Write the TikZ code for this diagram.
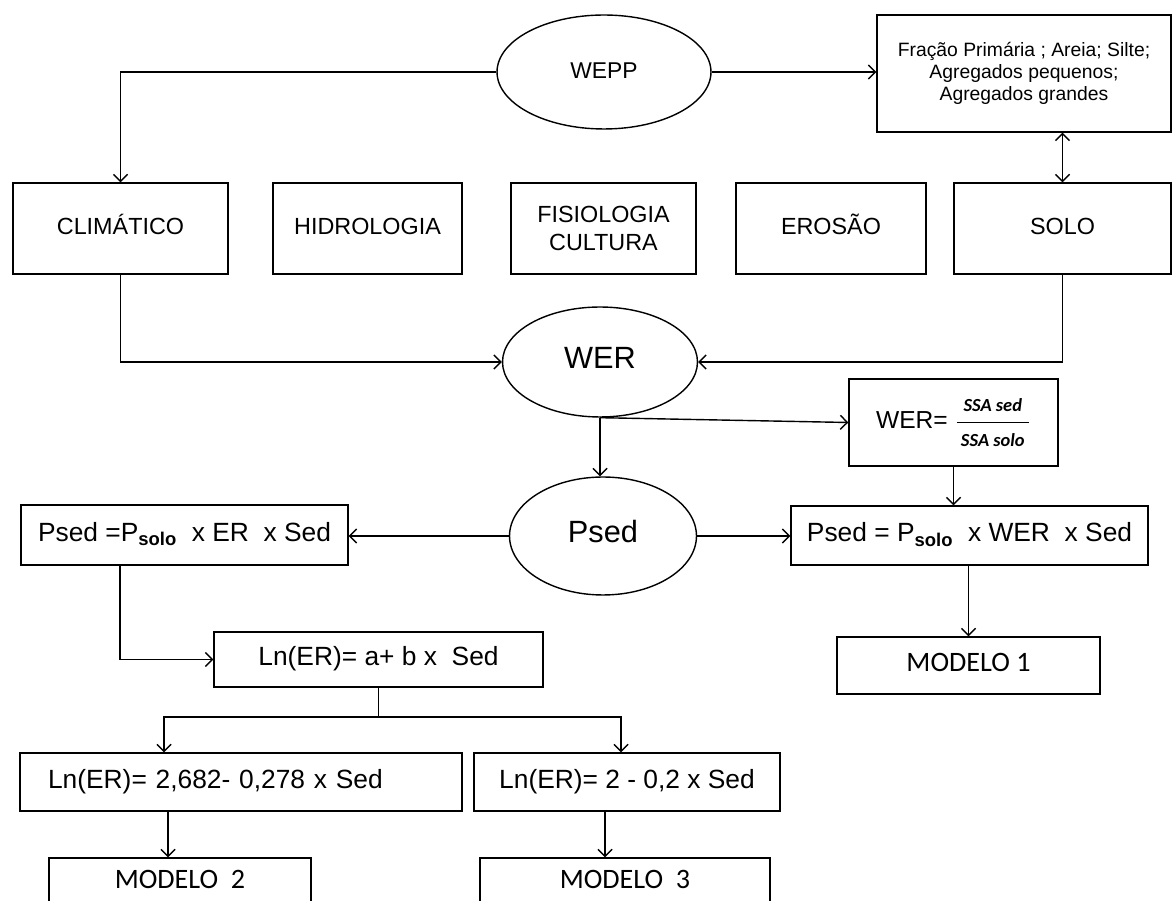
\documentclass[tikz,border=0pt]{standalone}
\usepackage{fontspec}
\setmainfont{Liberation Sans}
\newfontfamily\calfont{Carlito}
\usetikzlibrary{shapes, arrows, arrows.meta}
\tikzstyle{block} = [draw, rectangle, inner sep=0pt, align=center, font=\fontsize{13.3}{16}\selectfont]
\tikzstyle{oneline} = [text height=0.72em, text depth=0pt]
\tikzstyle{elip} = [draw, ellipse, inner sep=0pt, oneline]
\tikzstyle{eqbox} = [block, oneline, font=\fontsize{15}{18}\selectfont]
\tikzstyle{modbox} = [block, oneline, font=\calfont\fontsize{16}{19}\selectfont]
\newcommand{\fracfont}{\calfont\bfseries\itshape\fontsize{10.5}{12}\selectfont}

\begin{document}
\begin{tikzpicture}[x=0.02cm,y=-0.02cm,line width=0.8pt,>={Straight Barb[length=4pt,width=8pt]}]
\useasboundingbox (0,0) rectangle (1174,901);
\clip (0,0) rectangle (1174,901);
\fill[white] (0,0) rectangle (1174,901);

\node [elip, minimum width=4.28cm, minimum height=2.28cm, font=\fontsize{13}{16}\selectfont] (wepp) at (604,72) {WEPP};
\node [block, minimum width=5.88cm, minimum height=2.34cm, font=\fontsize{11}{12.5}\selectfont] (fracao) at (1024,73.5) {Fração Primária ; Areia; Silte;\\ Agregados pequenos;\\ Agregados grandes};

\node [block, oneline, minimum width=4.3cm, minimum height=1.82cm] (climatico) at (120.5,228.5) {CLIMÁTICO};
\node [block, oneline, minimum width=3.78cm, minimum height=1.82cm] (hidrologia) at (367.5,228.5) {HIDROLOGIA};
\node [block, minimum width=3.7cm, minimum height=1.82cm] (fisiologia) at (603.5,228.5) {FISIOLOGIA\\ CULTURA};
\node [block, oneline, minimum width=3.8cm, minimum height=1.82cm] (erosao) at (831,228.5) {EROSÃO};
\node [block, oneline, minimum width=4.34cm, minimum height=1.82cm] (solo) at (1062.5,228.5) {SOLO};

\node [elip, minimum width=3.9cm, minimum height=2.2cm, font=\fontsize{17.5}{20}\selectfont] (wer) at (600,362) {WER};
\node [block, minimum width=4.18cm, minimum height=1.74cm, font=\fontsize{14}{17}\selectfont] (werbox) at (953.5,422.5) {WER=\ ${\displaystyle\frac{\mbox{\fracfont\ SSA sed\ }}{\mbox{\fracfont\ SSA solo\ }}}$};

\node [elip, minimum width=3.74cm, minimum height=2.36cm, font=\fontsize{17.5}{20}\selectfont] (psed) at (603,536) {Psed};
\node [eqbox, minimum width=6.54cm, minimum height=1.2cm] (pleft) at (184.5,535) {Psed =P\textsubscript{\textbf{solo}}\ \ x ER\ \ x Sed};
\node [eqbox, minimum width=7.14cm, minimum height=1.18cm] (pright) at (969.5,535.5) {Psed = P\textsubscript{\textbf{solo}}\ \ x WER\ \ x Sed};

\node [eqbox, minimum width=6.58cm, minimum height=1.1cm] (lnab) at (378.5,659.5) {Ln(ER)= a+ b x\ \ Sed};
\node [modbox, minimum width=5.26cm, minimum height=1.14cm] (mod1) at (968.5,665.5) {MODELO 1};

\node [eqbox, minimum height=1.16cm, text width=7.72cm, inner xsep=0.56cm, align=left] (lnA) at (241,782) {Ln(ER)= 2,682- 0,278 x Sed};
\node [eqbox, minimum width=6.12cm, minimum height=1.16cm] (lnB) at (627,782) {Ln(ER)= 2 - 0,2 x Sed};
\node [modbox, minimum width=5.24cm, minimum height=0.96cm] (mod2) at (180,882) {MODELO\ \ 2};
\node [modbox, minimum width=5.8cm, minimum height=0.96cm] (mod3) at (625,882) {MODELO\ \ 3};

\coordinate (fork) at (378.5,717);

\draw [->] (wepp.west) -| (climatico.north);
\draw [->] (wepp.east) -- (wepp.east -| fracao.west);
\draw [<->] (fracao.south -| solo.north) -- (solo.north);
\draw [->] (climatico.south) |- (wer.west);
\draw [->] (solo.south) |- (wer.east);
\draw [->] (wer.south) -- (wer.south |- psed.north);
\draw [->] (wer.south) -- (werbox.west);
\draw [->] (werbox.south) -- (werbox.south |- pright.north);
\draw [->] (psed.west) -- (psed.west -| pleft.east);
\draw [->] (psed.east) -- (psed.east -| pright.west);
\draw [->] ([xshift=-1.29cm]pleft.south) |- (lnab.west);
\draw [->] (pright.south -| mod1.north) -- (mod1.north);
\draw (lnab.south) -- (fork);
\draw [->] (fork) -| ([xshift=-1.54cm]lnA.north);
\draw [->] (fork) -| ([xshift=-0.12cm]lnB.north);
\draw [->] ([xshift=-1.46cm]lnA.south) -- ([xshift=-1.46cm]lnA.south |- mod2.north);
\draw [->] ([xshift=-0.44cm]lnB.south) -- ([xshift=-0.44cm]lnB.south |- mod3.north);
\end{tikzpicture}
\end{document}
